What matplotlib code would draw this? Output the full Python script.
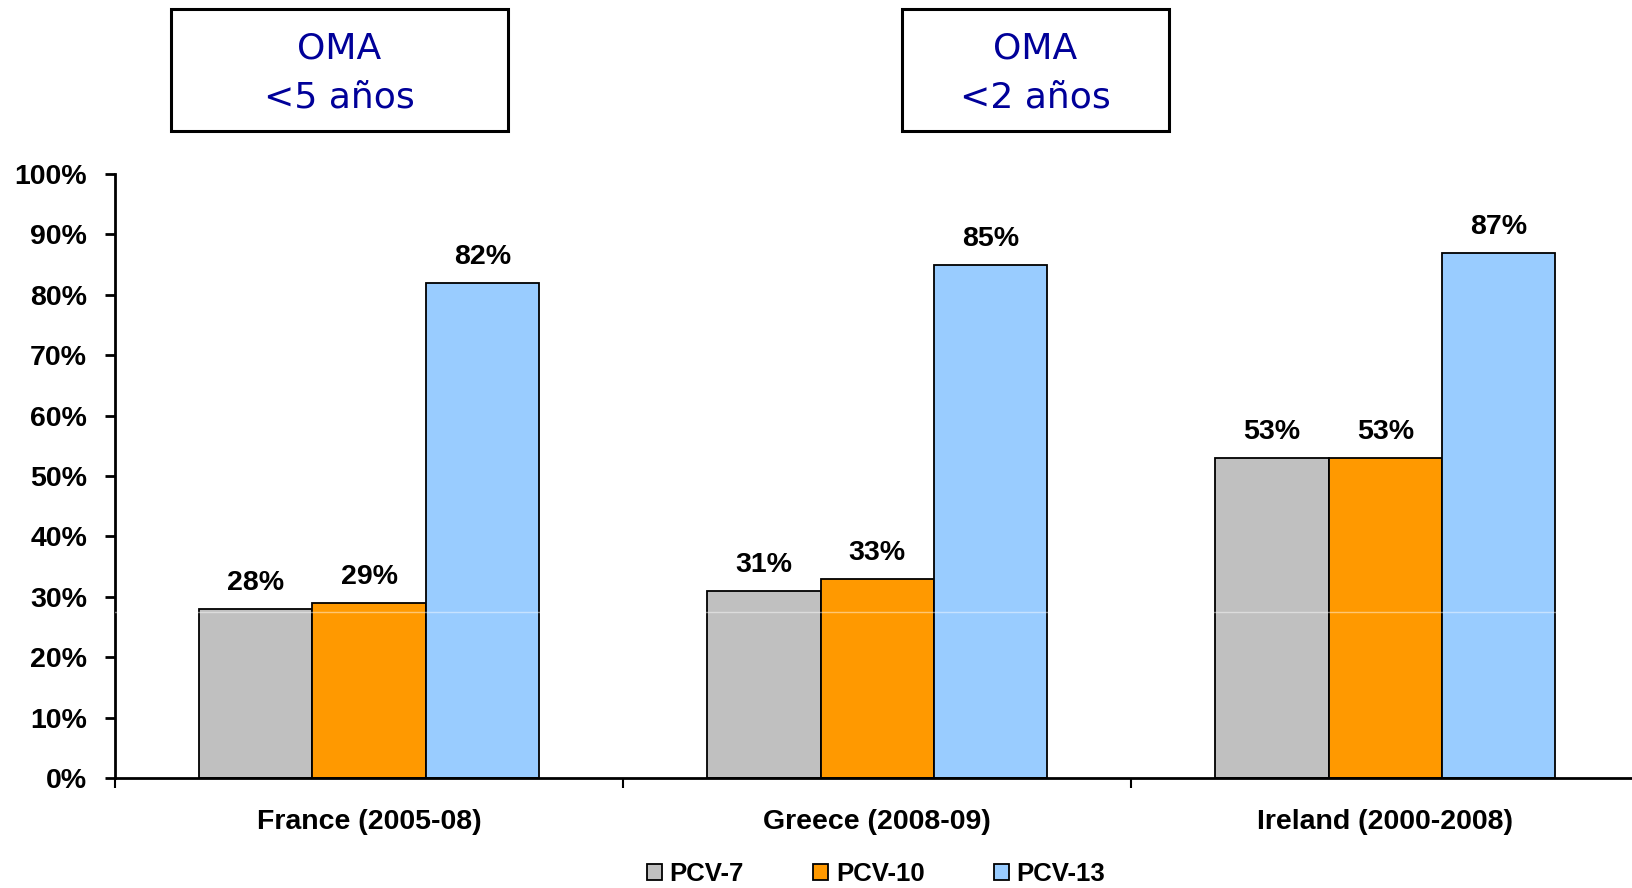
import numpy as np
import matplotlib
matplotlib.use("Agg")
import matplotlib.pyplot as plt
from matplotlib.patches import Rectangle

# Serotype coverage of AOM isolates per vaccine
categories = ["France (2005-08)", "Greece (2008-09)", "Ireland (2000-2008)"]
series = ["PCV-7", "PCV-10", "PCV-13"]
pcv7 = [28, 31, 53]
pcv10 = [29, 33, 53]
pcv13 = [82, 85, 87]
yticks = [0, 10, 20, 30, 40, 50, 60, 70, 80, 90, 100]
box_texts = ["OMA\n<5 años", "OMA\n<2 años"]

colors = ["#C0C0C0", "#FF9900", "#99CCFF"]
bold_font = ["Liberation Sans Narrow", "Liberation Sans", "DejaVu Sans"]

fig = plt.figure(figsize=(16.33, 8.88), dpi=100)
ax = fig.add_axes([115 / 1633, 1 - 778 / 888, 1 - 115 / 1633 + 0.004, (778 - 174) / 888])

x = np.arange(len(categories))
w = 0.223
for i, (vals, name, col) in enumerate(zip([pcv7, pcv10, pcv13], series, colors)):
    bars = ax.bar(x + (i - 1) * w, vals, w, color=col, edgecolor="black",
                  linewidth=1.3, label=name, zorder=2)
    for b, v in zip(bars, vals):
        ax.annotate(f"{v}%", (b.get_x() + b.get_width() / 2, v),
                    xytext=(0, 9), textcoords="offset points",
                    ha="center", va="bottom", fontsize=20.5,
                    fontweight="bold", family=bold_font)

# faint horizontal streak across the bars
ax.axhline(27.5, color="white", lw=1, alpha=0.45, zorder=3)

ax.set_xlim(-0.5, 2.5)
ax.set_ylim(0, 100)
ax.set_yticks(yticks)
ax.set_yticklabels([f"{t}%" for t in yticks])
ax.set_xticks(x)
ax.set_xticklabels(categories)
ax.set_xticks([-0.5, 0.5, 1.5, 2.5], minor=True)

for s in ["top", "right"]:
    ax.spines[s].set_visible(False)
for s in ["left", "bottom"]:
    ax.spines[s].set_linewidth(2)

ax.tick_params(axis="y", direction="out", length=7, width=2, pad=13)
ax.tick_params(axis="x", which="major", length=0, pad=22)
ax.tick_params(axis="x", which="minor", direction="out", length=7, width=1.5)
for lab in ax.get_yticklabels() + ax.get_xticklabels():
    lab.set_fontsize(20.5)
    lab.set_fontweight("bold")
    lab.set_family(bold_font)

leg = fig.legend(loc="center", bbox_to_anchor=(876 / 1633, 1 - 874 / 888),
                 ncol=3, frameon=False, handlelength=0.58, handleheight=0.58,
                 handletextpad=0.3, columnspacing=2.7,
                 prop={"size": 18.5, "weight": "bold", "family": bold_font})

# boxed subgroup titles above the chart
for (x0, x1), txt in zip([(171, 508), (902, 1169)], box_texts):
    fig.patches.append(Rectangle((x0 / 1633, 1 - 131 / 888), (x1 - x0) / 1633,
                                 122 / 888, transform=fig.transFigure,
                                 fill=False, edgecolor="black", linewidth=2.2))
    fig.text((x0 + x1) / 2 / 1633, 1 - 73 / 888, txt, ha="center", va="center",
             fontsize=26, color="#000099", linespacing=1.58, family="DejaVu Sans")

fig.savefig("out.png", dpi=100)
